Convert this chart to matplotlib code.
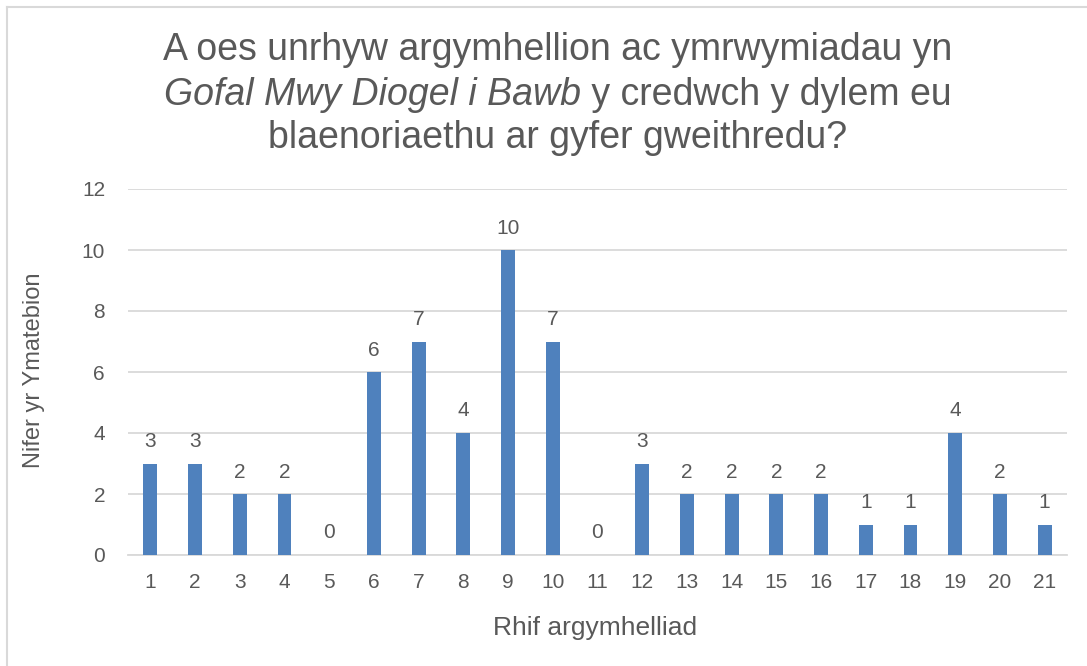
import matplotlib.pyplot as plt
from matplotlib.lines import Line2D

plt.rcParams['font.family'] = ['Liberation Sans', 'DejaVu Sans']

# data
categories = [str(i) for i in range(1, 22)]
values = [3, 3, 2, 2, 0, 6, 7, 4, 10, 7, 0, 3, 2, 2, 2, 2, 1, 1, 4, 2, 1]
y_ticks = [0, 2, 4, 6, 8, 10, 12]

title_line1 = 'A oes unrhyw argymhellion ac ymrwymiadau yn'
title_line2_italic = 'Gofal Mwy Diogel i Bawb'
title_line2_rest = ' y credwch y dylem eu'
title_line3 = 'blaenoriaethu ar gyfer gweithredu?'
x_label = 'Rhif argymhelliad'
y_label = 'Nifer yr Ymatebion'

text_col = '#595959'
bar_col = '#4f81bd'
grid_col = '#d9d9d9'

W, H = 1087, 666
fig = plt.figure(figsize=(W / 100, H / 100), dpi=100)
ax = fig.add_axes([128 / W, 1 - 555 / H, (1067 - 128) / W, (555 - 189) / H])

x = list(range(1, len(values) + 1))
bars = ax.bar(x, values, width=0.31, color=bar_col, zorder=3)
ax.bar_label(bars, padding=9, fontsize=15, color=text_col)

ax.set_xlim(0.5, len(values) + 0.5)
ax.set_ylim(0, 12)
ax.set_xticks(x)
ax.set_xticklabels(categories)
ax.set_yticks(y_ticks)
ax.tick_params(length=0, labelsize=15, labelcolor=text_col)
ax.tick_params(axis='x', pad=13)
ax.tick_params(axis='y', pad=16.5)
ax.grid(axis='y', color=grid_col, linewidth=1.3, zorder=0)
for s in ['top', 'right', 'left']:
    ax.spines[s].set_visible(False)
ax.spines['bottom'].set_color(grid_col)
ax.spines['bottom'].set_linewidth(1.3)

ax.set_xlabel(x_label, fontsize=19, color=text_col, va='center')
ax.set_ylabel(y_label, fontsize=17, color=text_col, va='center')
ax.xaxis.set_label_coords((595 - 128) / 939, (555 - 628) / 366)
ax.yaxis.set_label_coords((34 - 128) / 939, 0.505)

# title (three lines, second one partly italic)
cx = 558 / W
tsize = 27
fig.text(cx, 1 - 50 / H, title_line1, ha='center', va='center', fontsize=tsize, color=text_col)
fig.text(cx, 1 - 138 / H, title_line3, ha='center', va='center', fontsize=tsize, color=text_col)
t_it = fig.text(0, 1 - 95 / H, title_line2_italic, ha='left', va='center', fontsize=tsize,
                color=text_col, style='italic')
t_rest = fig.text(0, 1 - 95 / H, title_line2_rest, ha='left', va='center', fontsize=tsize,
                  color=text_col)
fig.canvas.draw()
r = fig.canvas.get_renderer()
w1 = t_it.get_window_extent(r).width
w2 = t_rest.get_window_extent(r).width
start = cx * W - (w1 + w2) / 2
t_it.set_x(start / W)
t_rest.set_x((start + w1) / W)

# chart frame
fig.add_artist(Line2D([7 / W, 7 / W], [0, 1 - 7 / H], transform=fig.transFigure,
                      color='#d9d9d9', linewidth=1.5))
fig.add_artist(Line2D([7 / W, 1], [1 - 7 / H, 1 - 7 / H], transform=fig.transFigure,
                      color='#d9d9d9', linewidth=1.5))

fig.savefig('out.png', dpi=100)
